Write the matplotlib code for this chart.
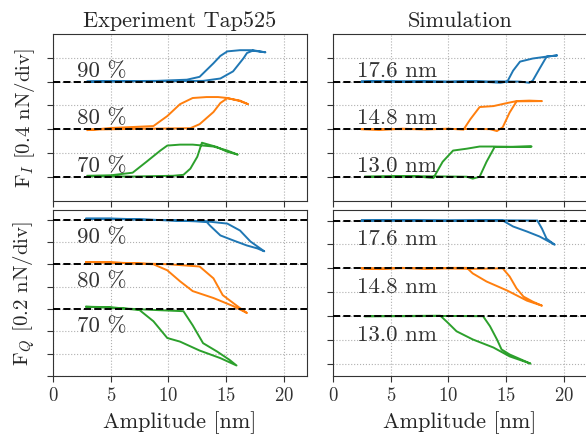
import matplotlib
matplotlib.use("Agg")
import matplotlib.pyplot as plt

# Computer Modern look without LaTeX
plt.rcParams['font.family'] = 'cmr10'
plt.rcParams['mathtext.fontset'] = 'cm'
plt.rcParams['axes.formatter.use_mathtext'] = True

colors = ['tab:blue', 'tab:orange', 'tab:green']

# curve values are relative to their own dashed baseline (in tick units)
# experiment, in-phase force F_I
exp_fi_labels = ['90 %', '80 %', '70 %']
exp_fi_x = [
    [3.0, 6.0, 9.0, 11.6, 12.7, 13.9, 14.5, 15.1, 16.2, 17.3, 18.4,
     17.3, 16.8, 16.5, 15.6, 14.5, 13.0, 10.0, 3.0],
    [3.0, 5.0, 8.7, 9.9, 11.0, 12.1, 13.3, 14.3, 15.1, 16.2, 16.9,
     16.2, 15.1, 14.5, 13.9, 12.7, 11.9, 8.0, 3.0],
    [3.0, 5.0, 6.9, 8.1, 9.3, 9.9, 11.0, 12.1, 13.9, 15.1, 16.0,
     15.1, 14.2, 12.9, 12.5, 11.9, 11.3, 10.4, 7.0, 3.0],
]
exp_fi_y = [
    [0.0, 0.02, 0.03, 0.08, 0.2, 0.77, 1.08, 1.27, 1.32, 1.32, 1.23,
     1.30, 1.2, 0.98, 0.43, 0.13, 0.03, 0.02, 0.0],
    [-0.04, 0.05, 0.13, 0.55, 1.05, 1.31, 1.35, 1.35, 1.31, 1.18, 1.05,
     1.2, 1.3, 1.1, 0.72, 0.21, 0.04, 0.02, -0.02],
    [0.04, 0.06, 0.17, 0.63, 1.10, 1.31, 1.35, 1.35, 1.27, 1.10, 0.93,
     1.05, 1.25, 1.43, 0.84, 0.34, 0.08, 0.04, 0.01, 0.02],
]

# simulation, in-phase force F_I
sim_fi_labels = ['17.6 nm', '14.8 nm', '13.0 nm']
sim_fi_x = [
    [2.5, 4.0, 6.0, 8.0, 10.0, 12.0, 13.5, 14.5, 15.1, 15.6, 16.2, 17.3, 18.5, 19.4,
     18.5, 17.9, 17.3, 17.0, 16.2, 14.0, 10.0, 6.0, 2.5],
    [2.5, 4.0, 6.0, 8.0, 10.0, 11.3, 11.9, 12.7, 13.9, 15.1, 15.9, 17.0, 18.1,
     15.9, 15.3, 14.7, 14.2, 13.6, 12.0, 8.0, 2.5],
    [2.8, 5.0, 7.0, 8.7, 9.5, 10.4, 11.6, 12.7, 13.9, 15.5, 17.2,
     14.0, 13.3, 12.7, 12.1, 11.6, 8.0, 2.8],
]
sim_fi_y = [
    [0.0, 0.02, -0.01, 0.01, 0.0, 0.02, -0.02, -0.05, 0.0, 0.46, 0.84, 0.97, 1.05, 1.1,
     1.05, 0.55, 0.04, -0.05, 0.0, 0.01, -0.01, 0.01, 0.0],
    [0.0, -0.03, 0.02, -0.01, 0.02, -0.02, 0.42, 0.93, 0.97, 1.1, 1.18, 1.2, 1.18,
     1.17, 0.7, 0.08, -0.08, 0.0, 0.01, 0.0, 0.0],
    [0.0, 0.01, 0.02, -0.05, 0.63, 1.1, 1.18, 1.27, 1.27, 1.25, 1.27,
     1.25, 0.63, 0.0, -0.08, 0.0, 0.02, 0.0],
]

# experiment, quadrature force F_Q
exp_fq_x = [
    [2.9, 5.0, 8.0, 11.0, 13.3, 13.6, 14.5, 15.6, 16.8, 17.7, 18.3,
     17.1, 16.2, 15.1, 13.3, 10.0, 5.0, 2.9],
    [2.9, 5.0, 8.7, 9.9, 11.0, 12.1, 13.9, 15.6, 16.8,
     16.3, 15.6, 14.7, 13.9, 12.7, 10.0, 5.0, 2.9],
    [2.9, 5.0, 7.5, 8.7, 9.9, 11.0, 12.7, 14.5, 15.9,
     15.3, 14.2, 13.0, 12.1, 11.3, 9.0, 5.0, 2.9],
]
exp_fq_y = [
    [0.04, 0.05, 0.0, -0.05, -0.1, -0.27, -0.71, -0.93, -1.16, -1.29, -1.42,
     -0.98, -0.49, -0.18, -0.08, -0.03, 0.03, 0.04],
    [0.1, 0.08, 0.0, -0.27, -0.76, -1.2, -1.51, -1.87, -2.18,
     -2.0, -1.73, -1.38, -0.63, -0.1, 0.0, 0.08, 0.1],
    [0.1, 0.08, -0.05, -0.55, -1.3, -1.46, -1.86, -2.2, -2.53,
     -2.28, -1.9, -1.53, -0.73, -0.1, -0.05, 0.05, 0.1],
]

# simulation, quadrature force F_Q
sim_fq_x = [
    [2.5, 6.0, 10.0, 14.7, 15.6, 16.8, 17.9, 19.2,
     18.5, 18.1, 17.7, 14.0, 8.0, 2.5],
    [2.5, 4.0, 6.0, 8.0, 10.0, 11.6, 12.1, 13.3, 15.1, 16.8, 18.1,
     17.3, 16.5, 15.9, 15.3, 14.7, 12.0, 8.0, 2.5],
    [2.8, 6.0, 9.3, 9.9, 10.7, 12.1, 13.9, 15.3, 17.1,
     15.3, 14.6, 14.2, 13.6, 13.0, 10.0, 6.0, 2.8],
]
sim_fq_y = [
    [0.0, 0.01, -0.01, 0.0, -0.25, -0.46, -0.67, -1.01,
     -0.76, -0.34, 0.0, 0.01, 0.0, 0.0],
    [0.0, -0.03, 0.02, -0.02, 0.02, 0.02, -0.21, -0.55, -0.93, -1.35, -1.56,
     -1.39, -1.18, -0.84, -0.34, 0.0, -0.02, 0.01, 0.0],
    [0.0, 0.01, 0.02, -0.25, -0.63, -0.97, -1.31, -1.68, -1.98,
     -1.6, -1.39, -0.97, -0.42, 0.0, 0.01, 0.0, 0.0],
]

baselines = [4, 2, 0]

fig, axes = plt.subplots(2, 2, figsize=(5.86, 4.35), dpi=100, sharex=True)
# right column runs slightly past the canvas edge, as in the original
fig.subplots_adjust(left=0.0904, right=1.0017, top=0.9195, bottom=0.1333,
                    wspace=0.1024, hspace=0.054)


def draw_panel(ax, xs, ys, labels, text_dy, ylim, yticks):
    for i in range(3):
        off = baselines[i]
        ax.plot(xs[i], [v + off for v in ys[i]], color=colors[i], lw=1.4, zorder=2)
        ax.axhline(off, color='black', ls='--', lw=1.4, zorder=3)
        ax.text(2.1, off + text_dy, labels[i], fontsize=16.5, color='#333333',
                va='baseline', ha='left', zorder=4)
    ax.set_ylim(*ylim)
    ax.set_yticks(yticks)
    ax.set_yticklabels([])
    ax.set_xlim(0, 22)
    ax.set_xticks([0, 5, 10, 15, 20])
    ax.grid(True, ls=':', color='#b0b0b0', lw=0.8)
    for s in ax.spines.values():
        s.set_color('#333333')
    ax.tick_params(colors='#333333', labelsize=13.5, length=4)


draw_panel(axes[0, 0], exp_fi_x, exp_fi_y, exp_fi_labels, 0.25, (-1, 6), range(0, 6))
draw_panel(axes[0, 1], sim_fi_x, sim_fi_y, sim_fi_labels, 0.25, (-1, 6), range(0, 6))
draw_panel(axes[1, 0], exp_fq_x, exp_fq_y, exp_fi_labels, -1.0, (-3, 4.45), range(-3, 5))
draw_panel(axes[1, 1], sim_fq_x, sim_fq_y, sim_fi_labels, -1.0, (-2.5, 4.46), range(-2, 5))

axes[0, 0].set_title('Experiment Tap525', fontsize=16, color='#262626')
axes[0, 1].set_title('Simulation', fontsize=16, color='#262626')
axes[0, 0].set_ylabel(r'F$_I$ [0.4 nN/div]', fontsize=15, color='#262626')
axes[1, 0].set_ylabel(r'F$_Q$ [0.2 nN/div]', fontsize=15, color='#262626')
axes[1, 0].set_xlabel('Amplitude [nm]', fontsize=16, color='#262626')
axes[1, 1].set_xlabel('Amplitude [nm]', fontsize=16, color='#262626')

fig.savefig('out.png', dpi=100)
